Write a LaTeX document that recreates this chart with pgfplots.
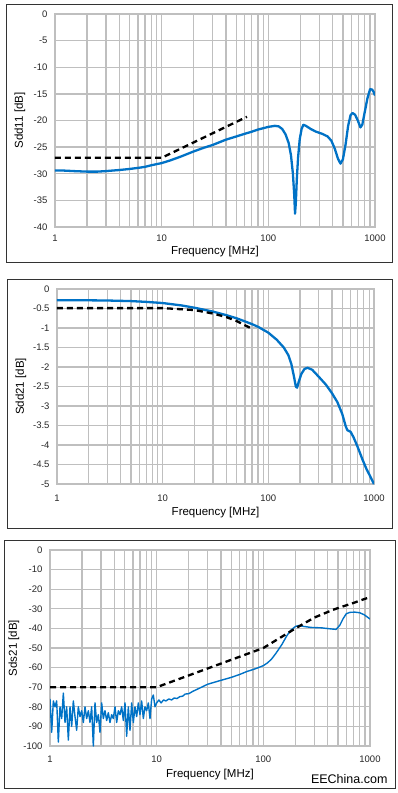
\documentclass[border=0pt]{standalone}
\usepackage{fontspec}
\setmainfont{Liberation Sans}
\usepackage{pgfplots}
\pgfplotsset{compat=1.18}
\definecolor{curve}{RGB}{0,114,198}
\definecolor{gridc}{RGB}{191,191,191}
\pgfplotsset{
 panel/.style={
  xmin=1, xmax=1000, scale only axis,
  anchor=south west,
  xtick={1,10,100,1000}, xticklabels={1,10,100,1000},
  minor xtick={2,3,4,5,6,7,8,9,20,30,40,50,60,70,80,90,200,300,400,500,600,700,800,900},
  xmajorgrids, xminorgrids, ymajorgrids,
  grid style={gridc, line width=1.3pt},
  minor grid style={gridc, line width=1.3pt},
  axis line style={gridc, line width=1.3pt},
  major tick length=0pt, minor tick length=0pt,
  tick label style={font=\fontsize{9.5}{11}\selectfont, black!85},
  yticklabel style={xshift=-4pt},
  xlabel={Frequency [MHz]},
 },
 labs/.style 2 args={
  every axis x label/.style={at={(axis description cs:0.5,0)}, yshift=#2, anchor=center, font=\fontsize{11.5}{13}\selectfont},
  every axis y label/.style={at={(axis description cs:0,0.5)}, xshift=#1, rotate=90, anchor=center, font=\fontsize{11.5}{13}\selectfont},
 },
 bluec/.style={curve, line width=2.3pt, line join=round},
 dashc/.style={black, line width=2.3pt, dash pattern=on 6pt off 4pt},
}
\begin{document}
\begin{tikzpicture}
\useasboundingbox (0,0) rectangle (398pt,-793pt);
\draw[line width=0.8pt, black!80] (6pt,-4pt) rectangle (392pt,-262pt);
\draw[line width=0.8pt, black!80] (7pt,-279pt) rectangle (392pt,-528pt);
\draw[line width=0.8pt, black!80] (4pt,-540pt) rectangle (395pt,-788pt);

% Panel 1
\begin{semilogxaxis}[panel, labs={-35pt}{-25pt}, at={(55pt,-227pt)}, width=320pt, height=213pt,
  ymin=-40, ymax=0, ytick={0,-5,-10,-15,-20,-25,-30,-35,-40},
  yticklabels={0,-5,-10,-15,-20,-25,-30,-35,-40},
  xticklabel style={yshift=-4pt},
  ylabel={Sdd11 [dB]}]
\addplot[bluec] coordinates {
(1,-29.4) (1.2,-29.4) (1.5,-29.5) (2,-29.6) (2.5,-29.6) (3,-29.5) (4,-29.3) (5,-29.1) (6,-28.9) (7,-28.7) (8,-28.4) (10,-28.0)
(12,-27.5) (15,-26.8) (20,-25.8) (25,-25.1) (30,-24.6) (40,-23.6) (50,-23.0) (60,-22.5) (70,-22.1) (80,-21.7) (100,-21.2)
(115,-21.0) (125,-21.1) (135,-21.6) (145,-22.6) (155,-24.2) (163,-26.5) (170,-30.0) (175,-34.0) (178,-37.5) (181,-35.5)
(185,-31.0) (190,-27.0) (197,-23.5) (205,-21.6) (213,-20.8) (225,-21.0) (250,-21.6) (280,-22.1) (320,-22.5) (360,-23.0)
(390,-23.8) (420,-25.3) (450,-27.2) (475,-28.1) (500,-27.3) (530,-24.5) (560,-21.0) (590,-19.0) (615,-18.6) (650,-18.9)
(690,-20.0) (730,-21.3) (760,-20.8) (800,-18.5) (850,-15.8) (900,-14.1) (940,-14.2) (970,-14.6) (1000,-15.3)};
\addplot[dashc] coordinates {(1,-27) (10,-27) (63,-19.3)};
\end{semilogxaxis}

% Panel 2
\begin{semilogxaxis}[panel, labs={-36pt}{-29pt}, at={(57pt,-484pt)}, width=317pt, height=195pt,
  ymin=-5, ymax=0, ytick={0,-0.5,-1,-1.5,-2,-2.5,-3,-3.5,-4,-4.5,-5},
  yticklabels={0,-0.5,-1,-1.5,-2,-2.5,-3,-3.5,-4,-4.5,-5},
  xticklabel style={yshift=-7pt},
  ylabel={Sdd21 [dB]}]
\addplot[bluec] coordinates {
(1,-0.29) (2,-0.29) (3,-0.295) (5,-0.31) (7,-0.33) (10,-0.36) (15,-0.42) (20,-0.48) (30,-0.58) (40,-0.67) (50,-0.75)
(60,-0.83) (70,-0.90) (80,-0.97) (100,-1.12) (120,-1.30) (140,-1.50) (155,-1.70) (165,-1.92) (175,-2.25) (182,-2.50)
(187,-2.53) (193,-2.40) (205,-2.18) (220,-2.05) (235,-2.02) (260,-2.07) (300,-2.25) (350,-2.45) (400,-2.67) (450,-2.90)
(500,-3.20) (540,-3.52) (560,-3.62) (600,-3.66) (640,-3.80) (700,-4.05) (780,-4.38) (850,-4.62) (900,-4.75) (1000,-5.0)};
\addplot[dashc] coordinates {(1,-0.49) (10,-0.49) (20,-0.54) (30,-0.63) (40,-0.72) (50,-0.82) (60,-0.93) (68,-1.0)};
\end{semilogxaxis}

% Panel 3
\begin{semilogxaxis}[panel, labs={-36pt}{-29pt}, at={(50pt,-746pt)}, width=320pt, height=196pt,
  ymin=-100, ymax=0, ytick={0,-10,-20,-30,-40,-50,-60,-70,-80,-90,-100},
  yticklabels={0,-10,-20,-30,-40,-50,-60,-70,-80,-90,-100},
  xticklabel style={yshift=-6pt},
  ylabel={Sds21 [dB]}]
\addplot[curve, line width=1.4pt, line join=round] coordinates {
(1.000,-76) (1.037,-93) (1.075,-77) (1.114,-80) (1.155,-77) (1.197,-98) (1.241,-80) (1.287,-86) (1.334,-73) (1.383,-88)
(1.433,-80) (1.486,-97) (1.540,-80) (1.597,-90) (1.655,-77) (1.716,-85) (1.778,-92) (1.843,-80) (1.911,-85) (1.981,-82)
(2.054,-88) (2.129,-80) (2.207,-86) (2.288,-82) (2.371,-88) (2.458,-80) (2.548,-100) (2.642,-78) (2.738,-88) (2.839,-84)
(2.943,-93) (3.051,-78) (3.162,-86) (3.278,-82) (3.398,-87) (3.523,-83) (3.652,-88) (3.786,-84) (3.924,-86) (4.068,-80)
(4.217,-88) (4.372,-82) (4.532,-84) (4.698,-80) (4.870,-87) (5.048,-78) (5.233,-95) (5.425,-80) (5.623,-92) (5.829,-78)
(6.043,-88) (6.264,-80) (6.494,-85) (6.732,-78) (6.978,-84) (7.234,-77) (7.499,-86) (7.774,-80) (8.058,-82) (8.354,-78)
(8.660,-86) (8.977,-76) (9.306,-74) (9.647,-80) (10.0,-78)
(10.5,-76.5) (11,-78) (11.6,-76.5) (12.2,-77) (13,-76) (13.8,-76.5) (14.6,-75.5) (15.5,-75.8) (16.5,-74.8) (17.5,-74.6)
(18.5,-73.5) (20,-73.3) (22,-72) (25,-70.6) (30,-68.5) (40,-66.5) (50,-65) (60,-63.5) (70,-62) (80,-61) (90,-60) (100,-59)
(110,-57.5) (120,-55.5) (130,-53) (140,-50.5) (150,-48) (165,-44) (180,-41) (200,-39) (215,-38.5) (240,-39.0) (280,-39.5)
(350,-39.7) (420,-40.2) (480,-40.5) (520,-38.5) (560,-35) (600,-32.5) (650,-31.8) (720,-31.7) (800,-32) (880,-33) (950,-34.3) (1000,-35.2)};
\addplot[dashc] coordinates {(1,-70) (10,-70) (100,-50) (200,-40) (300,-34.5) (450,-30.5) (700,-27) (1000,-24)};
\end{semilogxaxis}
\node[anchor=east, font=\fontsize{12.5}{14}\selectfont] at (391pt,-779pt) {EEChina.com};
\end{tikzpicture}
\end{document}
